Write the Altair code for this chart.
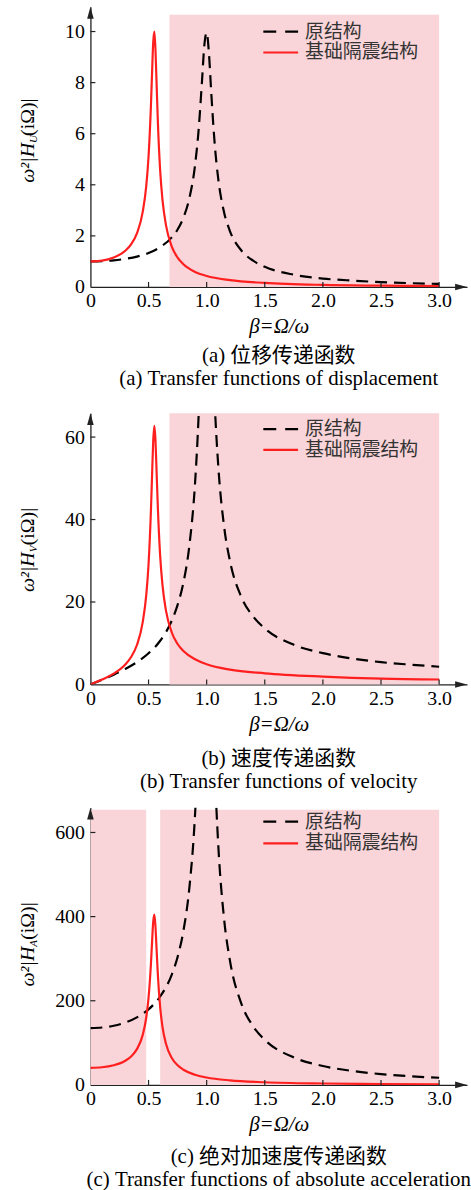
import altair as alt
import pandas as pd

# ---------------- data ----------------
# original structure (原结构), frequency ratio samples
beta_orig = [0, 0.1, 0.2, 0.3, 0.4, 0.5, 0.6, 0.7, 0.75, 0.8, 0.85, 0.9, 0.93, 0.96, 0.98,
             1.0, 1.02, 1.04, 1.07, 1.1, 1.15, 1.2, 1.3, 1.4, 1.5, 1.75, 2.0, 2.25, 2.5, 2.75, 3.0]
disp_orig = [1.00, 1.01, 1.04, 1.10, 1.19, 1.33, 1.56, 1.94, 2.25, 2.71, 3.45, 4.76, 6.10, 8.07, 9.46,
             9.95, 9.12, 7.57, 5.55, 4.22, 2.92, 2.19, 1.42, 1.03, 0.79, 0.48, 0.33, 0.25, 0.19, 0.15, 0.12]
vel_orig = [0, 1.15, 2.37, 3.76, 5.42, 7.58, 10.6, 15.5, 19.3, 24.7, 33.4, 48.8, 64.6, 88.3, 105.7,
            114.0, 106.0, 89.7, 67.7, 52.9, 38.3, 30.0, 21.1, 16.5, 13.6, 9.6, 7.6, 6.3, 5.4, 4.8, 4.3]
acc_orig = [135, 136.4, 140.5, 148.2, 160.5, 179.6, 210.1, 262.3, 304.2, 366.1, 465.2, 642.2, 823.1, 1089, 1277,
            1343, 1231, 1021, 749.5, 569.4, 394.3, 296.1, 192.2, 139.2, 107.2, 65.2, 44.9, 33.2, 25.7, 20.6, 16.9]

# base-isolated structure (基础隔震结构)
beta_iso = [0, 0.1, 0.2, 0.3, 0.35, 0.4, 0.45, 0.48, 0.5, 0.52, 0.53, 0.54, 0.55, 0.56, 0.57,
            0.58, 0.6, 0.62, 0.65, 0.7, 0.75, 0.8, 0.9, 1.0, 1.2, 1.5, 2.0, 2.5, 3.0]
disp_iso = [1.00, 1.03, 1.15, 1.42, 1.67, 2.10, 2.94, 3.94, 5.10, 7.04, 8.34, 9.56, 10.0, 9.24, 7.85,
            6.50, 4.56, 3.41, 2.42, 1.58, 1.15, 0.89, 0.59, 0.43, 0.27, 0.16, 0.08, 0.05, 0.03]
vel_iso = [0, 1.18, 2.62, 4.85, 6.67, 9.57, 15.1, 21.6, 29.1, 41.7, 50.4, 58.9, 62.7, 59.0, 51.0,
           43.0, 31.2, 24.1, 17.9, 12.6, 9.8, 8.1, 6.1, 4.9, 3.6, 2.7, 1.9, 1.4, 1.2]
acc_iso = [40.5, 41.9, 46.6, 57.5, 67.7, 85.0, 118.9, 159.6, 206.7, 285.0, 337.7, 387.2, 405, 374.2, 318.0,
           263.2, 184.8, 138.1, 97.8, 64.0, 46.5, 36.0, 24.0, 17.5, 10.8, 6.3, 3.3, 2.1, 1.4]

# shaded ranges (isolation effective)
shade_a_start, shade_a_end = [0.68], [3.0]
shade_b_start, shade_b_end = [0.68], [3.0]
shade_c_start, shade_c_end = [0.0, 0.6], [0.48, 3.0]

x_ticks = [0, 0.5, 1.0, 1.5, 2.0, 2.5, 3.0]
y_ticks_a = [0, 2, 4, 6, 8, 10]
y_ticks_b = [0, 20, 40, 60]
y_ticks_c = [0, 200, 400, 600]

legend_labels = ["原结构", "基础隔震结构"]
x_title = "β=Ω/ω"
captions_cn = ["(a) 位移传递函数", "(b) 速度传递函数", "(c) 绝对加速度传递函数"]
captions_en = ["(a) Transfer functions of displacement", "(b) Transfer functions of velocity",
               "(c) Transfer functions of absolute acceleration"]
y_subs = ["U", "V", "A"]

# ---------------- styling ----------------
W = 379
X_MAX = 3.24
PINK = "#f9d4d8"
RED = "#ff1f1f"
SERIF = "Liberation Serif"
CJK = "Noto Sans CJK SC"
AX = "#222222"


def panel(orig_vals, iso_vals, H, ymax, shade_top, s_start, s_end, yticks,
          leg_y1, leg_y2, junction, sub, cn, en, title_offset):
    xs = alt.Scale(domain=[0, X_MAX], nice=False, zero=False)
    ys = alt.Scale(domain=[0, ymax], nice=False, zero=False)
    xa = alt.Axis(values=x_ticks, labelExpr="datum.value == 0 ? '0' : format(datum.value, '.1f')",
                  ticks=False, tickSize=0, labelPadding=4, domainColor=AX, domainWidth=1.3,
                  labelFont=SERIF, labelFontSize=20, labelColor="black", labelFlush=False,
                  title=x_title, titleFont=SERIF, titleFontStyle="italic", titleFontWeight="normal",
                  titleFontSize=21, titleColor="black", titlePadding=5, grid=False)
    ya = alt.Axis(values=yticks, ticks=False, tickSize=0, labelPadding=6, domainColor=AX, domainWidth=1.3,
                  labelFont=SERIF, labelFontSize=20, labelColor="black", labelFlush=False,
                  title=None, grid=False)
    X = lambda f="b": alt.X(f"{f}:Q", scale=xs, axis=xa)
    Y = lambda f="v": alt.Y(f"{f}:Q", scale=ys, axis=ya)

    shade_df = pd.DataFrame({"b": s_start, "b2": s_end, "v": [0] * len(s_start), "v2": [shade_top] * len(s_start)})
    shade = alt.Chart(shade_df).mark_rect(color=PINK).encode(x=X(), x2="b2:Q", y=Y(), y2="v2:Q")

    orig_df = pd.DataFrame({"b": beta_orig, "v": orig_vals})
    iso_df = pd.DataFrame({"b": beta_iso, "v": iso_vals})
    l_orig = alt.Chart(orig_df).mark_line(color="black", strokeWidth=2.2, strokeDash=[12, 7],
                                          clip=True, interpolate="monotone").encode(x=X(), y=Y())
    l_iso = alt.Chart(iso_df).mark_line(color=RED, strokeWidth=2.2, clip=True,
                                        interpolate="monotone").encode(x=X(), y=Y())

    xt_df = pd.DataFrame({"b": [t for t in x_ticks if t > 0]})
    xt = alt.Chart(xt_df).mark_rule(color=AX, strokeWidth=1.2).encode(
        x=X(), y=alt.value(H), y2=alt.value(H - 5))
    yt_df = pd.DataFrame({"v": [t for t in yticks if t > 0]})
    yt = alt.Chart(yt_df).mark_rule(color=AX, strokeWidth=1.2).encode(
        y=Y(), x=alt.value(0), x2=alt.value(5))

    one = pd.DataFrame({"k": [0]})
    arrow_up = alt.Chart(one).mark_point(shape="M0,-1L0.55,1L-0.55,1Z", size=144, filled=True,
                                         color=AX, opacity=1).encode(x=alt.value(0), y=alt.value(6))
    arrow_rt = alt.Chart(one).mark_point(shape="M1,0L-1,0.55L-1,-0.55Z", size=144, filled=True,
                                         color=AX, opacity=1).encode(x=alt.value(W - 6), y=alt.value(H))

    leg1 = alt.Chart(one).mark_rule(color="black", strokeWidth=2.2, strokeDash=[13, 9]).encode(
        x=alt.value(174), x2=alt.value(209), y=alt.value(leg_y1))
    leg2 = alt.Chart(one).mark_rule(color=RED, strokeWidth=2.2).encode(
        x=alt.value(174), x2=alt.value(209), y=alt.value(leg_y2))
    legt1 = alt.Chart(one).mark_text(text=legend_labels[0], font=CJK, fontSize=19, color="#333",
                                     align="left", baseline="middle").encode(x=alt.value(216), y=alt.value(leg_y1))
    legt2 = alt.Chart(one).mark_text(text=legend_labels[1], font=CJK, fontSize=19, color="#333",
                                     align="left", baseline="middle").encode(x=alt.value(216), y=alt.value(leg_y2))

    yl1 = alt.Chart(one).mark_text(text="ω²|H", font=SERIF, fontSize=20, fontStyle="italic", color="black",
                                   angle=270, align="right", baseline="middle").encode(
        x=alt.value(-63), y=alt.value(junction))
    yl2 = alt.Chart(one).mark_text(text=sub, font=SERIF, fontSize=11, fontStyle="italic", color="black",
                                   angle=270, align="left", baseline="middle").encode(
        x=alt.value(-57), y=alt.value(junction))
    yl3 = alt.Chart(one).mark_text(text="(iΩ)|", font=SERIF, fontSize=20, color="black",
                                   angle=270, align="left", baseline="middle").encode(
        x=alt.value(-63), y=alt.value(junction - 7))

    return alt.layer(shade, l_orig, l_iso, xt, yt, arrow_up, arrow_rt,
                     leg1, leg2, legt1, legt2, yl1, yl2, yl3).properties(
        width=W, height=H,
        title=alt.TitleParams(text=[cn, en], orient="bottom", anchor="middle", frame="group",
                              font=SERIF + ", " + CJK, fontSize=21, fontWeight="normal", color="black",
                              lineHeight=23, offset=title_offset))


pa = panel(disp_orig, disp_iso, 282, 10.97, 10.66, shade_a_start, shade_a_end, y_ticks_a,
           25, 46, 137, y_subs[0], captions_cn[0], captions_en[0], 9)
pb = panel(vel_orig, vel_iso, 273, 65.8, 65.8, shade_b_start, shade_b_end, y_ticks_b,
           16, 37, 140, y_subs[1], captions_cn[1], captions_en[1], 14)
pc = panel(acc_orig, acc_iso, 279, 659, 654, shade_c_start, shade_c_end, y_ticks_c,
           14, 36, 140, y_subs[2], captions_cn[2], captions_en[2], 12)

chart = alt.vconcat(alt.vconcat(pa, pb, spacing=24), pc, spacing=16).properties(
    padding={"left": 18, "top": 3, "right": 0, "bottom": 0},
    background="white",
).configure_view(stroke=None)

chart.save("out.html", embed_options={"renderer": "svg", "actions": False})
